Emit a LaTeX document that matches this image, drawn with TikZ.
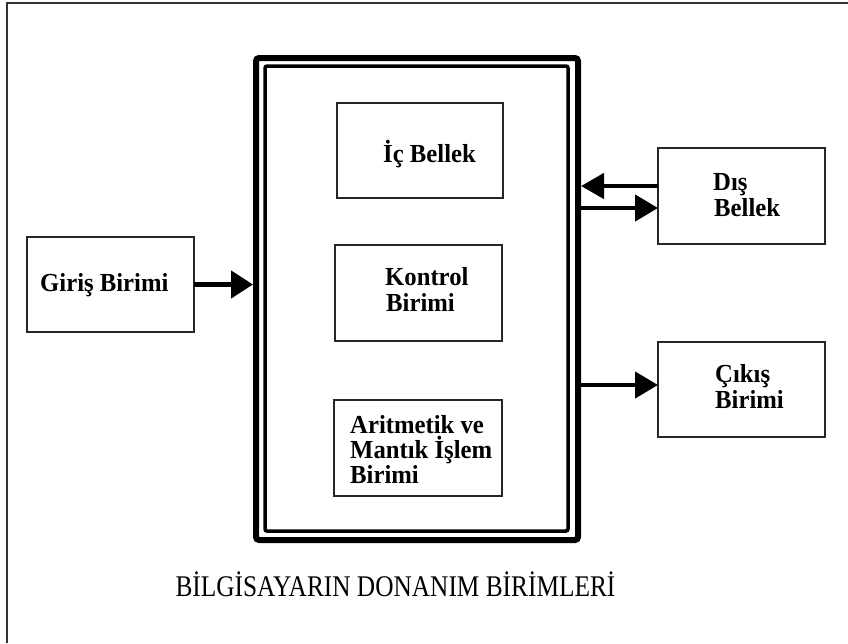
\documentclass[tikz,border=0pt]{standalone}
\usepackage{fontspec}
\setmainfont{Liberation Serif}
\newfontfamily\titlefont[FakeStretch=0.845]{Liberation Serif}
\newfontfamily\lblfont[FakeStretch=0.95]{Liberation Serif}
\usetikzlibrary{arrows.meta}
\tikzset{
  box/.style={draw=black!85, line width=1.3pt, inner sep=0pt, outer sep=0pt, fill=white},
  lbl/.style={inner sep=0pt, anchor=base west, font=\lblfont\fontsize{26}{26}\selectfont\bfseries},
  arr/.style={line width=4.5pt, -{Triangle[length=22pt,width=27pt]}},
  outerbox/.style={draw, line width=6pt, rounded corners=3pt, inner sep=0pt},
  innerbox/.style={draw, line width=3.5pt, rounded corners=2pt, inner sep=0pt},
}
\begin{document}
\begin{tikzpicture}[x=1pt,y=-1pt]
\useasboundingbox (0,0) rectangle (848,643);
% page frame (top and left only)
\draw[black!80, line width=1.5pt] (7,643) -- (7,3) -- (848,3);

% main unit
\node[outerbox, minimum width=322pt, minimum height=482pt] (outer) at (417,299) {};
\node[innerbox, minimum width=303pt, minimum height=465pt] (inner) at (416.5,298.5) {};

% inner boxes
\node[box, minimum width=166pt, minimum height=95pt] (ic) at (420,150.5) {};
\node[box, minimum width=167pt, minimum height=96pt] (kon) at (418.5,293) {};
\node[box, minimum width=168pt, minimum height=96pt] (alu) at (418,448) {};

% outer boxes
\node[box, minimum width=167pt, minimum height=95pt] (gir) at (110.5,284.5) {};
\node[box, minimum width=167pt, minimum height=96pt] (dis) at (741.5,196) {};
\node[box, minimum width=167pt, minimum height=95pt] (cik) at (741.5,389.5) {};

% labels
\node[lbl] (tgir) at (40,291) {Giriş Birimi};
\node[lbl] (tic) at (383,162) {İç Bellek};
\node[lbl] (tkon1) at (385,285) {Kontrol};
\node[lbl] (tkon2) at (386,311) {Birimi};
\node[lbl] (talu1) at (350,433) {Aritmetik ve};
\node[lbl] (talu2) at (350,458) {Mantık İşlem};
\node[lbl] (talu3) at (350,483) {Birimi};
\node[lbl] (tdis1) at (713,190) {Dış};
\node[lbl] (tdis2) at (714,216) {Bellek};
\node[lbl] (tcik1) at (715,382) {Çıkış};
\node[lbl] (tcik2) at (715,408) {Birimi};

% connectors
\coordinate (g1) at (gir.east);
\draw[arr] (g1) -- (g1 -| outer.west);
\coordinate (d1) at (658,186);
\coordinate (d2) at (658,208);
\draw[arr, -{Triangle[length=23pt,width=25pt]}] (d1) -- (d1 -| outer.east);
\draw[arr, -{Triangle[length=23pt,width=26pt]}] (d2 -| outer.east) -- (d2);
\coordinate (c1) at (658,385);
\draw[arr, -{Triangle[length=23pt,width=26pt]}] (c1 -| outer.east) -- (c1);

% title
\node[inner sep=0pt, anchor=base, font=\titlefont\fontsize{30}{32}\selectfont] (title) at (395.5,596) {BİLGİSAYARIN DONANIM BİRİMLERİ};
\end{tikzpicture}
\end{document}
